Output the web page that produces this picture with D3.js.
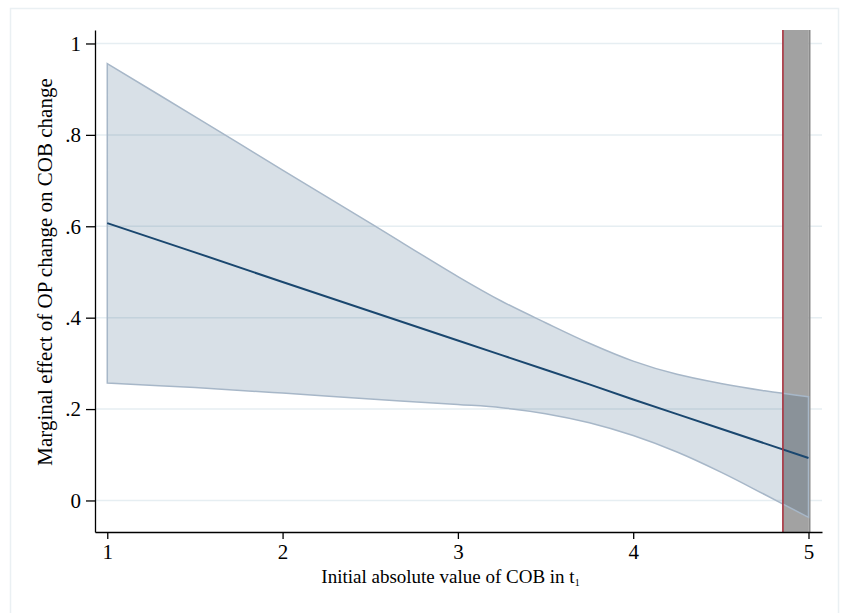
<!DOCTYPE html>
<meta charset="utf-8">
<style>
body { margin: 0; background: #fff; }
text { font-family: "Liberation Serif", "DejaVu Serif", serif; fill: #000; }
.grid line { stroke: #e6eef2; stroke-width: 1.5px; }
.axis path, .axis line { stroke: #000; stroke-width: 1.3px; }
.ci { fill: #1a476f; fill-opacity: .17; stroke: #a7b7c8; stroke-width: 1.5px; }
.est { fill: none; stroke: #1a476f; stroke-width: 2px; }
</style>
<body>
<script src="https://cdn.jsdelivr.net/npm/d3@7"></script>
<script>

var width = 843,
    height = 613;

// values
var xVals    = [1, 1.5, 2, 2.5, 3, 3.25, 3.5, 3.75, 4, 4.25, 4.5, 4.75, 5];
var estimate = [0.607, 0.543, 0.478, 0.414, 0.350, 0.318, 0.286, 0.254, 0.221, 0.189, 0.157, 0.125, 0.093];
var upper    = [0.956, 0.840, 0.723, 0.607, 0.490, 0.436, 0.389, 0.344, 0.305, 0.276, 0.256, 0.240, 0.227];
var lower    = [0.257, 0.247, 0.235, 0.222, 0.210, 0.203, 0.190, 0.170, 0.142, 0.106, 0.062, 0.013, -0.037];

var xTicks = [1, 2, 3, 4, 5];
var yTicks = [0, 0.2, 0.4, 0.6, 0.8, 1];
var cutoff = [4.854, 5];

var margin = {left: 95, right: 21, top: 30, bottom: 81};

var x = d3.scaleLinear()
    .domain([0.93, 5.077])
    .range([margin.left, width - margin.right]);

var y = d3.scaleLinear()
    .domain([-0.069, 1.0295])
    .range([height - margin.bottom, margin.top]);

var svg = d3.select("body").append("svg")
    .attr("width", width)
    .attr("height", height);

// outer frame
svg.append("rect")
    .attr("x", 10.5).attr("y", 8.5)
    .attr("width", 828).attr("height", 620)
    .attr("fill", "#fff")
    .attr("stroke", "#eaf0f3")
    .attr("stroke-width", 1.5);

svg.append("g")
    .attr("class", "grid")
  .selectAll("line")
    .data(yTicks)
  .enter().append("line")
    .attr("x1", x.range()[0])
    .attr("x2", x.range()[1])
    .attr("y1", function(d) { return y(d); })
    .attr("y2", function(d) { return y(d); });

// shaded region beyond the cutoff
svg.append("rect")
    .attr("x", x(cutoff[0]))
    .attr("y", y.range()[1])
    .attr("width", x(cutoff[1]) - x(cutoff[0]))
    .attr("height", y.range()[0] - y.range()[1])
    .attr("fill", "#a2a2a2");

svg.append("line")
    .attr("x1", x(cutoff[1]) + 1).attr("x2", x(cutoff[1]) + 1)
    .attr("y1", y.range()[1]).attr("y2", y.range()[0])
    .attr("stroke", "#8a8a8a")
    .attr("stroke-width", 2);

var pts = xVals.map(function(d, i) {
  return {x: d, est: estimate[i], lo: lower[i], hi: upper[i]};
});

var area = d3.area()
    .curve(d3.curveCatmullRom)
    .x(function(d) { return x(d.x); })
    .y0(function(d) { return y(d.lo); })
    .y1(function(d) { return y(d.hi); });

svg.append("path")
    .datum(pts)
    .attr("class", "ci")
    .attr("d", area);

var line = d3.line()
    .x(function(d) { return x(d.x); })
    .y(function(d) { return y(d.est); });

svg.append("path")
    .datum(pts)
    .attr("class", "est")
    .attr("d", line);

svg.append("line")
    .attr("x1", x(cutoff[0])).attr("x2", x(cutoff[0]))
    .attr("y1", y.range()[1]).attr("y2", y.range()[0])
    .attr("stroke", "#a8323e")
    .attr("stroke-width", 1.6);

var fmt = function(d) { return d === 0 ? "0" : d === 1 ? "1" : d3.format(".1f")(d).replace(/^0/, ""); };

svg.append("g")
    .attr("class", "axis")
    .attr("transform", "translate(" + margin.left + ",0)")
    .call(d3.axisLeft(y).tickValues(yTicks).tickFormat(fmt).tickSize(9).tickPadding(5).tickSizeOuter(0));

svg.append("g")
    .attr("class", "axis")
    .attr("transform", "translate(0," + (height - margin.bottom) + ")")
    .call(d3.axisBottom(x).tickValues(xTicks).tickFormat(d3.format("d")).tickSize(7).tickPadding(5).tickSizeOuter(0));

svg.selectAll(".axis text")
    .style("font-size", "21px")
    .style("font-family", "Liberation Serif");

var xl = svg.append("text")
    .attr("x", (x.range()[0] + x.range()[1]) / 2 - 8)
    .attr("y", 583)
    .attr("text-anchor", "middle")
    .style("font-size", "19px");
xl.append("tspan").text("Initial absolute value of COB in t");
xl.append("tspan").attr("dy", 3).style("font-size", "10px").text("1");

svg.append("text")
    .attr("transform", "translate(52," + ((y.range()[0] + y.range()[1]) / 2 - 9) + ") rotate(-90)")
    .attr("text-anchor", "middle")
    .style("font-size", "21px")
    .text("Marginal effect of OP change on COB change");

</script>
